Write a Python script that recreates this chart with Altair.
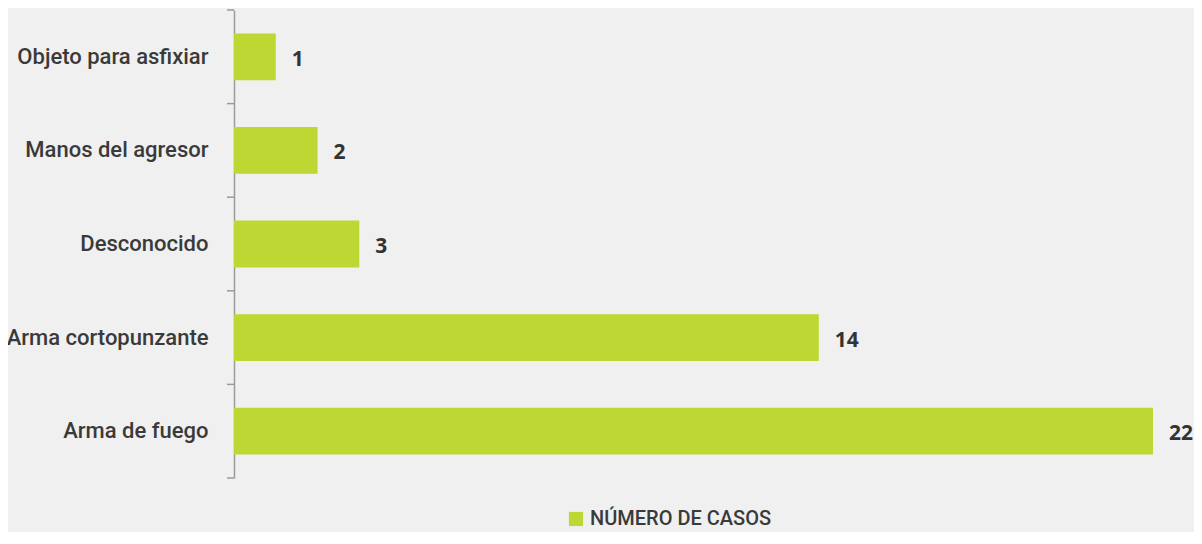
import altair as alt
import pandas as pd

categories = ["Objeto para asfixiar", "Manos del agresor", "Desconocido", "Arma cortopunzante", "Arma de fuego"]
values = [1, 2, 3, 14, 22]
series_name = "NÚMERO DE CASOS"

df = pd.DataFrame({"cat": categories, "val": values, "serie": [series_name] * len(values)})

COND = "Roboto, sans-serif"
GREEN = "#bed732"
GRAY = "#9a9a9a"
W, H = 919, 468
STEP = H / 5.0

y_enc = alt.Y("cat:N", sort=categories, title=None,
              scale=alt.Scale(paddingInner=0.5, paddingOuter=0.25),
              axis=alt.Axis(domainColor=GRAY, domainWidth=1.5, ticks=False,
                            labelFont=COND, labelFontSize=22, labelFontWeight=500,
                            labelColor="#3a3a3a", labelPadding=26, labelLimit=260))
x_enc = alt.X("val:Q", title=None, scale=alt.Scale(domain=[0, 22], nice=False),
              axis=None)

bars = alt.Chart(df).mark_bar(color=GREEN).encode(
    y=y_enc, x=x_enc,
    color=alt.Color("serie:N", scale=alt.Scale(range=[GREEN]), title=None,
                    legend=alt.Legend(orient="none", legendX=332, legendY=499,
                                      symbolType="square", symbolSize=200,
                                      symbolStrokeWidth=0, symbolOpacity=1,
                                      labelFont=COND, labelFontSize=20, labelFontWeight=500,
                                      labelColor="#3a3a3a", labelLimit=400)))

# category boundary ticks on the left axis
ticks_top = alt.Chart(df).mark_rule(color=GRAY, strokeWidth=1.5, yOffset=-STEP / 2).encode(
    y=alt.Y("cat:N", sort=categories), x=alt.value(-7), x2=alt.value(0))
tick_bottom = alt.Chart(df.head(1)).mark_rule(color=GRAY, strokeWidth=1.5).encode(
    y=alt.value(H), x=alt.value(-7), x2=alt.value(0))

labels = alt.Chart(df).mark_text(align="left", baseline="middle", dx=16, dy=3,
                                 font="Open Sans", fontWeight="bold", fontSize=21,
                                 color="#333333").encode(
    y=alt.Y("cat:N", sort=categories), x="val:Q", text="val:Q")

chart = alt.layer(bars, ticks_top, tick_bottom, labels).properties(
    width=W, height=H,
    autosize=alt.AutoSizeParams(type="none"),
    padding={"left": 226, "top": 2, "right": 41, "bottom": 54},
    background="#f0f0f0",
).configure_view(stroke=None)

chart.save("out.html", embed_options={"renderer": "svg", "actions": False})
